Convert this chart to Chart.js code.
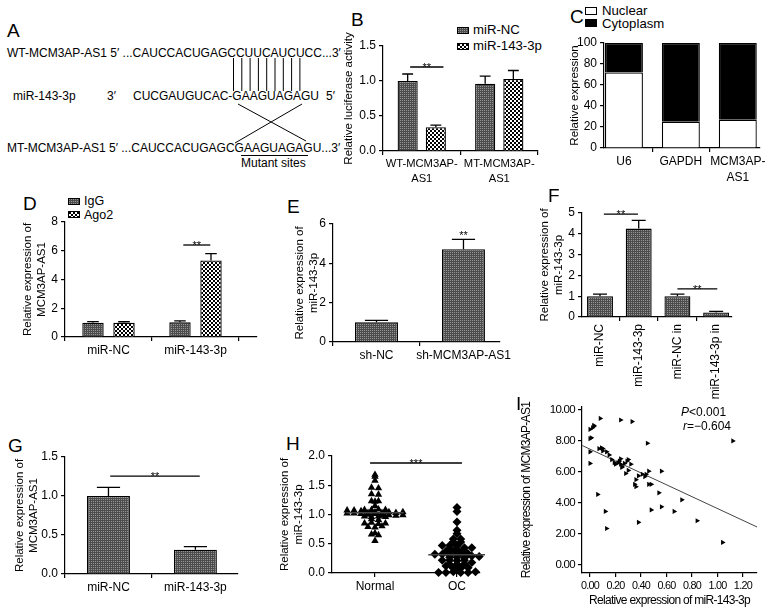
<!DOCTYPE html>
<html><head><meta charset="utf-8">
<script src="https://cdn.jsdelivr.net/npm/chart.js@4.4.1/dist/chart.umd.min.js"></script>
<style>
html,body{margin:0;padding:0;background:#fff}
body{position:relative;width:765px;height:611px;overflow:hidden;font-family:'Liberation Sans',Arial,Helvetica,sans-serif;color:#000}
canvas{position:absolute}
.t{position:absolute;line-height:0;white-space:pre;color:#000}
.sw{position:absolute;box-sizing:border-box;border:1px solid #000}
svg{position:absolute;left:0;top:0}
</style></head><body>
<svg id="diag" width="765" height="611"></svg>
<script>
// ================= DATA =================
// B: luciferase
const catsB = [['WT-MCM3AP-','AS1'],['MT-MCM3AP-','AS1']];
const seriesB = ['miR-NC','miR-143-3p'];
const ncB = [1.00, 0.96];
const ncErrB = [0.10, 0.11];
const mirB = [0.34, 1.03];
const mirErrB = [0.03, 0.12];
const ticksB = [0, 0.5, 1.0, 1.5];
// C: nuclear / cytoplasm fractions
const catsC = ['U6','GAPDH',['MCM3AP-','AS1']];
const seriesC = ['Nuclear','Cytoplasm'];
const nuclearC = [72, 25, 27];
const cytoplasmC = [28, 75, 73];
const ticksC = [0, 20, 40, 60, 80, 100];
// D: RIP
const catsD = ['miR-NC','miR-143-3p'];
const seriesD = ['IgG','Ago2'];
const iggD = [1.00, 1.02];
const iggErrD = [0.07, 0.10];
const ago2D = [1.00, 5.32];
const ago2ErrD = [0.06, 0.48];
const ticksD = [0, 2, 4, 6, 8];
// E
const catsE = ['sh-NC','sh-MCM3AP-AS1'];
const valsE = [1.00, 4.72];
const errE = [0.10, 0.50];
const ticksE = [0, 2, 4, 6];
// F
const catsF = ['miR-NC','miR-143-3p','miR-NC in','miR-143-3p in'];
const valsF = [1.00, 4.25, 1.00, 0.22];
const errF = [0.10, 0.40, 0.10, 0.05];
const ticksF = [0, 1, 2, 3, 4, 5];
// G
const catsG = ['miR-NC','miR-143-3p'];
const valsG = [1.00, 0.31];
const errG = [0.11, 0.04];
const ticksG = [0, 0.5, 1.0, 1.5];
// H: dot plot
const groupsH = ['Normal','OC'];
const normalH = [1.68,1.65,1.58,1.46,1.45,1.35,1.34,1.23,1.23,1.22,1.15,
  1.08,1.07,1.08,1.09,1.07,1.08,1.06,
  1.03,1.04,1.02,1.03,1.04,1.02,1.03,1.01,1.04,1.00,1.01,
  0.98,0.97,0.99,0.96,0.97,0.98,0.96,0.99,
  0.92,0.91,0.85,0.86,0.84,0.85,0.79,0.78,0.80,0.68,0.66,0.65,0.55];
const ocH = [1.12,1.05,0.87,0.73,0.67,0.58,0.58,0.53,0.53,0.47,0.47,0.46,
  0.43,0.42,0.43,0.40,0.37,0.38,0.37,0.35,0.32,0.32,0.33,0.31,0.32,0.31,
  0.29,0.27,0.27,0.28,0.26,0.22,0.22,0.21,0.22,0.18,0.15,0.15,0.16,0.12,
  0.08,0.08,0.09,0.05,0.01,0.01,0.02,0.01,0.01,0.02];
const meanH = [1.03, 0.31];
const ticksH = [0, 0.5, 1.0, 1.5, 2.0];
// I: correlation
const miRI = [0.00,0.02,0.03,0.03,0.08,0.24,0.33,0.00,0.01,0.00,0.00,0.07,0.09,0.10,
  0.10,0.13,0.15,0.17,0.19,0.20,0.22,0.23,0.24,0.24,0.25,0.25,0.27,0.29,0.30,0.32,
  0.30,0.28,0.36,0.35,0.36,0.38,0.41,0.43,0.46,0.48,0.44,0.46,0.45,0.56,0.54,0.06,
  0.12,0.13,0.38,0.48,0.56,0.66,0.72,0.84,1.04,1.12];
const mcmI = [8.75,8.85,9.00,8.95,9.45,9.35,9.25,8.15,8.20,7.30,6.55,7.50,7.55,7.50,
  7.35,7.30,7.10,6.80,6.60,6.50,6.60,6.70,6.85,6.50,6.35,6.30,6.55,6.70,6.80,6.50,
  6.10,5.90,5.50,5.20,5.05,5.75,5.85,5.70,5.20,5.20,5.85,6.05,7.85,6.05,4.65,4.55,
  3.45,2.35,2.75,3.55,3.75,3.45,4.20,2.85,1.45,8.00];
const fitXI = [-0.06, 1.31];
const fitYI = [7.70, 2.45];
const xTicksI = [0, 0.2, 0.4, 0.6, 0.8, 1.0, 1.2];
const yTicksI = [0, 2, 4, 6, 8, 10];

// ================= HELPERS =================
const FONT = "'Liberation Sans', Arial, Helvetica, sans-serif";
Chart.defaults.font.family = FONT;
Chart.defaults.font.size = 12;
Chart.defaults.color = '#000';
Chart.defaults.animation = false;

function tile(kind){
  const c = document.createElement('canvas'); const x = c.getContext('2d');
  if (kind === 'check') { c.width = c.height = 4; x.fillStyle = '#fff'; x.fillRect(0,0,4,4); x.fillStyle = '#000'; x.fillRect(0,0,2,2); x.fillRect(2,2,2,2); }
  else { c.width = c.height = 2; x.fillStyle = '#4c4c4c'; x.fillRect(0,0,2,2); x.fillStyle = '#969696'; x.fillRect(0,0,1,1); }
  return c;
}
const grayTile = tile('gray'), checkTile = tile('check');
const ctx0 = document.createElement('canvas').getContext('2d');
const grayPat = ctx0.createPattern(grayTile, 'repeat');
const checkPat = ctx0.createPattern(checkTile, 'repeat');

function txt(s, x, y, size, o = {}) {
  const d = document.createElement('div'); d.className = 't';
  d.style.left = x + 'px'; d.style.top = y + 'px'; d.style.fontSize = size + 'px';
  if (o.html) d.innerHTML = s; else d.textContent = s;
  if (o.center) d.style.transform = 'translateX(-50%)';
  document.body.appendChild(d); return d;
}
function swatch(x, y, w, h, bg) {
  const d = document.createElement('div'); d.className = 'sw';
  d.style.left = x + 'px'; d.style.top = y + 'px'; d.style.width = w + 'px'; d.style.height = h + 'px';
  d.style.background = bg; document.body.appendChild(d);
}
const toXY = a => a.map((v, i) => ({x: i, y: v}));
function swarm(vals, center, bin, step) {
  const groups = new Map();
  vals.forEach((v, i) => { const k = Math.round(v / bin); if (!groups.has(k)) groups.set(k, []); groups.get(k).push(i); });
  const out = vals.map(v => ({x: center, y: v}));
  groups.forEach(idx => { const m = idx.length; idx.forEach((i, j) => { out[i].x = center + (j - (m - 1) / 2) * step; }); });
  return out;
}

const gridOpt = {drawOnChartArea: false, drawTicks: true, tickLength: 4, color: '#000', lineWidth: 1.2};
const borderOpt = {display: true, color: '#000', width: 1.2};

function zeroPad(s){ s.paddingLeft = 0; s.paddingRight = 0; s.paddingTop = 0; s.paddingBottom = 0; }

function makeExtras(p) {
  return {
    id: 'extras' + Math.random().toString(36).slice(2),
    beforeDraw(chart) { chart.ctx.letterSpacing = p.ls || '0px'; },
    afterDatasetsDraw(chart) {
      const ctx = chart.ctx, xs = chart.scales.x, ys = chart.scales.y;
      ctx.save(); ctx.strokeStyle = '#000'; ctx.fillStyle = '#000'; ctx.lineWidth = 1.3;
      chart.data.datasets.forEach((ds, di) => {
        if (!ds.errors) return;
        chart.getDatasetMeta(di).data.forEach((bar, i) => {
          const e = ds.errors[i]; if (!e) return;
          const v = ds.data[i].y;
          const y0 = ys.getPixelForValue(v), y1 = ys.getPixelForValue(v + e);
          const hw = bar.width * 0.27;
          ctx.beginPath(); ctx.moveTo(bar.x, y0); ctx.lineTo(bar.x, y1);
          ctx.moveTo(bar.x - hw, y1); ctx.lineTo(bar.x + hw, y1); ctx.stroke();
        });
      });
      (p.means || []).forEach(m => {
        ctx.save(); ctx.strokeStyle = '#444'; ctx.lineWidth = 1.5;
        const y = ys.getPixelForValue(m.y);
        ctx.beginPath(); ctx.moveTo(xs.getPixelForValue(m.x - m.half), y); ctx.lineTo(xs.getPixelForValue(m.x + m.half), y); ctx.stroke();
        ctx.restore();
      });
      (p.sig || []).forEach(s => {
        const x1 = xs.getPixelForValue(s.from), x2 = xs.getPixelForValue(s.to), y = ys.getPixelForValue(s.y);
        if (!s.noLine) { ctx.beginPath(); ctx.moveTo(x1, y); ctx.lineTo(x2, y); ctx.stroke(); }
        ctx.font = '11px ' + FONT; ctx.textAlign = 'center'; ctx.textBaseline = 'alphabetic';
        ctx.fillText(s.text, (x1 + x2) / 2, y + 4);
      });
      ctx.restore();
    }
  };
}

function panel(p) {
  const c = document.createElement('canvas');
  c.width = p.w; c.height = p.h;
  c.style.left = p.x + 'px'; c.style.top = p.y + 'px'; c.style.width = p.w + 'px'; c.style.height = p.h + 'px';
  document.body.appendChild(c);
  const tSize = p.titleSize || 11.5, tLH = 1.2;
  const padL = p.titleX - p.x - tSize * tLH / 2;
  const xAxis = {
    type: 'linear', min: p.xmin, max: p.xmax, offset: false, stacked: !!p.stacked,
    afterFit: s => { s.height = p.y + p.h - p.axisY; zeroPad(s); },
    grid: gridOpt, border: borderOpt,
    ticks: {autoSkip: false, maxRotation: p.rot || 0, minRotation: p.rot || 0, padding: p.xPad ?? 2,
            font: {size: p.xFont || 12, lineHeight: 1.3}}
  };
  if (p.cats) {
    xAxis.afterBuildTicks = s => { s.ticks = p.cats.map((_, i) => ({value: i})); };
    xAxis.ticks.callback = v => p.cats[v];
  } else {
    xAxis.afterBuildTicks = s => { s.ticks = p.xticks.map(v => ({value: v})); };
    xAxis.ticks.callback = v => v.toFixed(p.xdec);
  }
  if (p.xtitle) xAxis.title = {display: true, text: p.xtitle, padding: {top: 0, bottom: p.xtitlePad || 0}, font: {size: tSize, lineHeight: tLH}};
  const yAxis = {
    type: 'linear', min: p.ymin, max: p.ymax, stacked: !!p.stacked,
    afterFit: s => { s.width = p.axisX - p.x - padL; zeroPad(s); },
    afterBuildTicks: s => { s.ticks = p.yticks.map(v => ({value: v})); },
    grid: gridOpt, border: borderOpt,
    ticks: {padding: 3, callback: v => v.toFixed(p.ydec), font: {size: p.yFont || 12}},
    title: {display: true, text: p.ytitle, padding: 0, font: {size: tSize, lineHeight: tLH}}
  };
  return new Chart(c, {
    type: p.type || 'bar',
    data: {datasets: p.datasets},
    options: {
      responsive: false, animation: false,
      layout: {padding: {left: padL, top: p.topY - p.y, right: p.x + p.w - p.rightX, bottom: 0}},
      scales: {x: xAxis, y: yAxis},
      plugins: {legend: {display: false}, tooltip: {enabled: false}}
    },
    plugins: [makeExtras(p)]
  });
}

const barStyle = {borderColor: '#000', borderWidth: 1.3, borderSkipped: 'bottom'};

// ================= PANEL A (diagram) =================
txt('A', 7, 31, 19);
txt('WT-MCM3AP-AS1 5\u2032 ...CAUCCACUGAGCCUUCAUCUCC...3\u2032', 7, 52.5, 12);
txt('miR-143-3p', 13, 96, 12);
txt('3\u2032', 107, 96, 12);
txt('CUCGAUGUCAC-GAAGUAGAGU', 133, 96, 12);
txt('5\u2032', 326, 96, 12);
txt('MT-MCM3AP-AS1 5\u2032 ...CAUCCACUGAGCGAAGUAGAGU...3\u2032', 7, 147.5, 12);
txt('Mutant sites', 241, 163, 12);
(function(){
  const svg = document.getElementById('diag'); const NS = 'http://www.w3.org/2000/svg';
  function ln(x1, y1, x2, y2){ const l = document.createElementNS(NS, 'line');
    l.setAttribute('x1', x1); l.setAttribute('y1', y1); l.setAttribute('x2', x2); l.setAttribute('y2', y2);
    l.setAttribute('stroke', '#000'); l.setAttribute('stroke-width', '1'); svg.appendChild(l); }
  [233.5, 241.8, 250.1, 258.4, 266.7, 275, 283.3, 291.6, 299.9].forEach(x => ln(x, 58, x, 91));
  ln(238, 104, 306, 141); ln(235, 143, 302, 104);
  ln(241, 155.5, 308, 155.5);
})();

// ================= PANEL B =================
txt('B', 351, 20, 19);
swatch(457, 27, 12, 7, 'url(' + grayTile.toDataURL() + ')');
swatch(457, 43, 12, 7, 'url(' + checkTile.toDataURL() + ')');
txt(seriesB[0], 473, 30, 13.2); txt(seriesB[1], 473, 46, 13.2);
panel({x: 336, y: 28, w: 215, h: 162, titleX: 349, axisX: 383, topY: 46, rightX: 538, axisY: 151,
  xmin: -0.5, xmax: 1.5, ymin: 0, ymax: 1.5, yticks: ticksB, ydec: 1, cats: catsB, xFont: 11.2,
  ytitle: 'Relative luciferase activity',
  sig: [{from: -0.15, to: 0.28, y: 1.2, text: '**'}],
  datasets: [
    Object.assign({label: seriesB[0], data: toXY(ncB), errors: ncErrB, backgroundColor: grayPat, categoryPercentage: 0.727, barPercentage: 0.714}, barStyle),
    Object.assign({label: seriesB[1], data: toXY(mirB), errors: mirErrB, backgroundColor: checkPat, categoryPercentage: 0.727, barPercentage: 0.714}, barStyle)
  ]});

// ================= PANEL C =================
txt('C', 570, 16.5, 19);
swatch(585, 7, 12, 8, '#fff'); swatch(585, 19, 12, 8, '#000');
txt(seriesC[0], 602, 11, 13.2); txt(seriesC[1], 602, 23.5, 13.2);
panel({x: 560, y: 30, w: 205, h: 165, titleX: 575, axisX: 604, topY: 43, rightX: 760, axisY: 148,
  xmin: -0.35, xmax: 2.39, ymin: 0, ymax: 100, yticks: ticksC, ydec: 0, cats: catsC, stacked: true,
  ytitle: 'Relative expression',
  datasets: [
    Object.assign({label: seriesC[0], data: toXY(nuclearC), backgroundColor: '#fff', categoryPercentage: 1, barPercentage: 0.667}, barStyle),
    Object.assign({label: seriesC[1], data: toXY(cytoplasmC), backgroundColor: '#000', categoryPercentage: 1, barPercentage: 0.667}, barStyle)
  ]});

// ================= PANEL D =================
txt('D', 23, 203.5, 19);
swatch(68, 198, 12, 7, 'url(' + grayTile.toDataURL() + ')');
swatch(68, 211, 12, 7, 'url(' + checkTile.toDataURL() + ')');
txt(seriesD[0], 84, 201, 12.5); txt(seriesD[1], 84, 214.5, 12.5);
panel({x: 15, y: 210, w: 247, h: 155, titleX: 28, axisX: 65, topY: 222, rightX: 257, axisY: 337,
  xmin: -0.5, xmax: 1.707, ymin: 0, ymax: 8, yticks: ticksD, ydec: 0, cats: catsD,
  ytitle: ['Relative expression of', 'MCM3AP-AS1'],
  sig: [{from: 0.86, to: 1.17, y: 6.4, text: '**'}],
  datasets: [
    Object.assign({label: seriesD[0], data: toXY(iggD), errors: iggErrD, backgroundColor: grayPat, categoryPercentage: 0.713, barPercentage: 0.69}, barStyle),
    Object.assign({label: seriesD[1], data: toXY(ago2D), errors: ago2ErrD, backgroundColor: checkPat, categoryPercentage: 0.713, barPercentage: 0.69}, barStyle)
  ]});

// ================= PANEL E =================
txt('E', 287, 207, 19);
panel({x: 290, y: 212, w: 235, h: 158, titleX: 300, axisX: 333, topY: 224, rightX: 500, axisY: 342,
  xmin: -0.5, xmax: 1.42, ymin: 0, ymax: 6, yticks: ticksE, ydec: 0, cats: catsE,
  ytitle: ['Relative expression of', 'miR-143-3p'],
  sig: [{from: 1, to: 1, y: 5.45, text: '**', noLine: true}],
  datasets: [
    Object.assign({label: 'E', data: toXY(valsE), errors: errE, backgroundColor: grayPat, categoryPercentage: 1, barPercentage: 0.494}, barStyle)
  ]});

// ================= PANEL F =================
txt('F', 548, 196, 19);
panel({x: 535, y: 180, w: 205, h: 220, titleX: 545, axisX: 582, topY: 213, rightX: 732, axisY: 317,
  xmin: -0.465, xmax: 3.41, ymin: 0, ymax: 5, yticks: ticksF, ydec: 0, cats: catsF, rot: 90, xPad: 3,
  ytitle: ['Relative expression of', 'miR-143-3p'],
  sig: [{from: 0.1, to: 0.98, y: 4.95, text: '**'}, {from: 2.0, to: 3.03, y: 1.35, text: '**'}],
  datasets: [
    Object.assign({label: 'F', data: toXY(valsF), errors: errF, backgroundColor: grayPat, categoryPercentage: 1, barPercentage: 0.67}, barStyle)
  ]});

// ================= PANEL G =================
txt('G', 8, 446, 19);
panel({x: 5, y: 445, w: 238, h: 160, titleX: 20, axisX: 65, topY: 457, rightX: 238, axisY: 574,
  xmin: -0.5, xmax: 1.49, ymin: 0, ymax: 1.5, yticks: ticksG, ydec: 1, cats: catsG,
  ytitle: ['Relative expression of', 'MCM3AP-AS1'],
  sig: [{from: 0.02, to: 1.05, y: 1.256, text: '**'}],
  datasets: [
    Object.assign({label: 'G', data: toXY(valsG), errors: errG, backgroundColor: grayPat, categoryPercentage: 1, barPercentage: 0.494}, barStyle)
  ]});

// ================= PANEL H =================
txt('H', 286, 444, 19);
panel({type: 'scatter', x: 275, y: 444, w: 210, h: 161, titleX: 285, axisX: 332, topY: 456, rightX: 480, axisY: 573,
  xmin: -0.524, xmax: 1.28, ymin: 0, ymax: 2, yticks: ticksH, ydec: 1, cats: groupsH,
  ytitle: ['Relative expression of', 'miR-143-3p'],
  sig: [{from: -0.06, to: 1.06, y: 1.88, text: '***'}],
  means: [{x: 0, y: meanH[0], half: 0.35}, {x: 1, y: meanH[1], half: 0.35}],
  datasets: [
    {label: groupsH[0], data: swarm(normalH, 0, 0.05, 0.085), pointStyle: 'triangle', pointRadius: 4.3, backgroundColor: '#000', borderColor: '#000', borderWidth: 0, clip: false},
    {label: groupsH[1], data: swarm(ocH, 1, 0.05, 0.09), pointStyle: 'rectRot', pointRadius: 4.5, backgroundColor: '#000', borderColor: '#000', borderWidth: 0, clip: false}
  ]});

// ================= PANEL I =================
txt('I', 516, 404, 19);
txt('<i>P</i>&lt;0.001', 681, 412, 12, {html: true});
txt('<i>r</i>=\u22120.604', 683, 426, 12, {html: true});
panel({type: 'scatter', x: 515, y: 386, w: 250, h: 225, titleX: 527, axisX: 582, topY: 407, rightX: 757, axisY: 573,
  xmin: -0.063, xmax: 1.31, ymin: -0.52, ymax: 10.19, yticks: yTicksI, ydec: 2, xticks: xTicksI, xdec: 2,
  xFont: 10.8, yFont: 11.5, titleSize: 12, ls: '-0.7px',
  xtitle: 'Relative expression of miR-143-3p', xtitlePad: 3,
  ytitle: 'Relative expression of MCM3AP-AS1',
  datasets: [
    {label: 'samples', data: miRI.map((x, i) => ({x, y: mcmI[i]})), pointStyle: 'triangle', rotation: 90, pointRadius: 3, backgroundColor: '#000', borderColor: '#000', borderWidth: 0, clip: false},
    {label: 'fit', data: fitXI.map((x, i) => ({x, y: fitYI[i]})), showLine: true, borderColor: '#444', borderWidth: 1, pointRadius: 0}
  ]});
</script>
</body></html>
